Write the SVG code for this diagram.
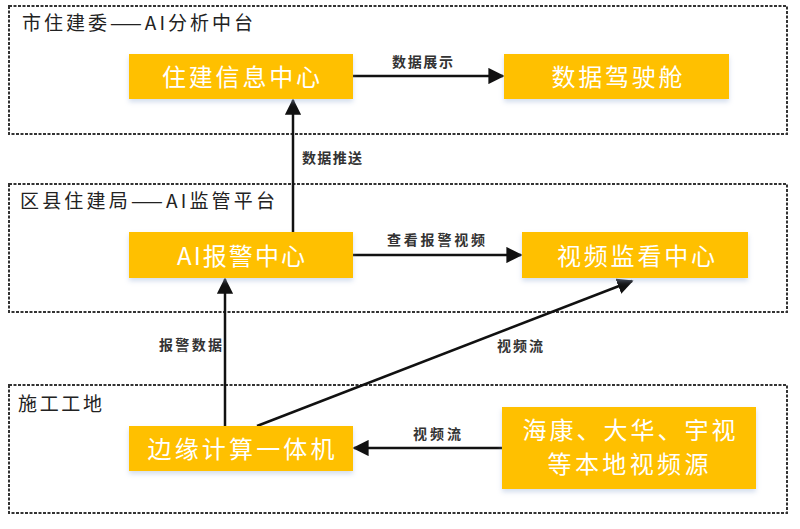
<svg xmlns="http://www.w3.org/2000/svg" width="800" height="529" viewBox="0 0 800 529">
<style>
.zone{fill:#fff;stroke:#333;stroke-width:2;stroke-dasharray:3 1.5}
.title{font-family:"Noto Sans CJK SC","Liberation Sans",sans-serif;font-size:19px;fill:#222}
.box{fill:#FFC000}
.ntext{font-family:"Noto Sans CJK SC","Liberation Sans",sans-serif;font-size:24px;fill:#fff;text-anchor:middle}
.lbl{font-family:"Noto Sans CJK SC","Liberation Sans",sans-serif;font-size:14px;font-weight:bold;fill:#333}
.edge{stroke:#111;stroke-width:2.5;fill:none;marker-end:url(#ah)}
</style>
<defs>
<marker id="ah" viewBox="0 0 10 10" refX="9" refY="5" markerWidth="6.5" markerHeight="6.5" markerUnits="strokeWidth" orient="auto">
<path d="M0,0 L10,5 L0,10 z" fill="#111"/>
</marker>
<filter id="sh" x="-10%" y="-20%" width="120%" height="150%">
<feDropShadow dx="0" dy="3" stdDeviation="2.5" flood-color="#9db4d8" flood-opacity="0.45"/>
</filter>
</defs>
<rect width="800" height="529" fill="#fff"/>
<g id="zone-city">
<rect class="zone" x="9" y="6" width="778" height="128"/>
<text class="title" x="22" y="30" textLength="231" lengthAdjust="spacing">市住建委——AI分析中台</text>
</g>
<g id="zone-district">
<rect class="zone" x="9" y="184" width="778" height="128"/>
<text class="title" x="20" y="208" textLength="255" lengthAdjust="spacing">区县住建局——AI监管平台</text>
</g>
<g id="zone-site">
<rect class="zone" x="9" y="385" width="778" height="128"/>
<text class="title" x="18" y="411" textLength="84" lengthAdjust="spacing">施工工地</text>
</g>
<g id="connectors">
<line class="edge" x1="353" y1="76" x2="503" y2="76"/>
<text class="lbl" x="392" y="67" textLength="61" lengthAdjust="spacing">数据展示</text>
<line class="edge" x1="293" y1="232" x2="293" y2="100"/>
<text class="lbl" x="302" y="163" textLength="60" lengthAdjust="spacing">数据推送</text>
<line class="edge" x1="353" y1="255" x2="521" y2="255"/>
<text class="lbl" x="387" y="245" textLength="98" lengthAdjust="spacing">查看报警视频</text>
<line class="edge" x1="225" y1="426" x2="225" y2="279"/>
<text class="lbl" x="159" y="350" textLength="63" lengthAdjust="spacing">报警数据</text>
<line class="edge" x1="257" y1="426" x2="632" y2="281"/>
<text class="lbl" x="497" y="351" textLength="46" lengthAdjust="spacing">视频流</text>
<line class="edge" x1="502" y1="448" x2="354" y2="448"/>
<text class="lbl" x="413" y="439" textLength="48" lengthAdjust="spacing">视频流</text>
</g>
<g id="node-info-center">
<rect class="box" x="129" y="54" width="224" height="45" filter="url(#sh)"/>
<text class="ntext" x="241" y="86" textLength="158" lengthAdjust="spacing">住建信息中心</text>
</g>
<g id="node-cockpit">
<rect class="box" x="504" y="54" width="225" height="45" filter="url(#sh)"/>
<text class="ntext" x="617" y="86" textLength="131" lengthAdjust="spacing">数据驾驶舱</text>
</g>
<g id="node-alarm-center">
<rect class="box" x="129" y="232" width="224" height="46" filter="url(#sh)"/>
<text class="ntext" x="241" y="265" textLength="128" lengthAdjust="spacing">AI报警中心</text>
</g>
<g id="node-video-center">
<rect class="box" x="522" y="232" width="226" height="46" filter="url(#sh)"/>
<text class="ntext" x="636" y="265" textLength="158" lengthAdjust="spacing">视频监看中心</text>
</g>
<g id="node-edge">
<rect class="box" x="129" y="426" width="224" height="45" filter="url(#sh)"/>
<text class="ntext" x="241" y="458" textLength="187" lengthAdjust="spacing">边缘计算一体机</text>
</g>
<g id="node-sources">
<rect class="box" x="502" y="407" width="254" height="82" filter="url(#sh)"/>
<text class="ntext" x="629" y="439" textLength="213" lengthAdjust="spacing">海康、大华、宇视</text>
<text class="ntext" x="628" y="473" textLength="161" lengthAdjust="spacing">等本地视频源</text>
</g>
</svg>
